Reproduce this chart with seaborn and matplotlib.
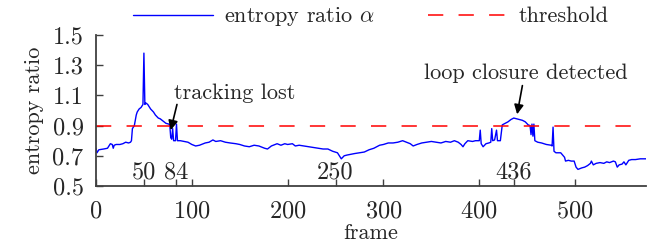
import numpy as np
import pandas as pd
import seaborn as sns
import matplotlib.pyplot as plt

# values
frames = [0, 1, 3, 8, 12, 15, 17, 18, 19, 21, 25, 28, 31, 34, 36, 37, 38, 40, 42, 43,
          45, 47, 49, 50, 51, 52, 54, 57, 60, 62, 65, 67, 70, 73, 76, 77, 78, 79, 80, 81,
          83, 84, 85, 88, 92, 96, 100, 104, 108, 114, 118, 122, 125, 130, 135, 140, 146, 150, 155, 160,
          165, 170, 176, 179, 183, 189, 193, 197, 200, 205, 208, 212, 217, 222, 227, 232, 237, 242, 247, 252,
          256, 259, 262, 266, 270, 275, 280, 285, 290, 293, 296, 300, 305, 310, 315, 320, 324, 328, 331, 335,
          340, 345, 350, 355, 360, 365, 370, 374, 378, 381, 383, 385, 388, 393, 396, 400, 401, 402, 404, 407,
          410, 412, 413, 414, 416, 418, 419, 422, 424, 427, 430, 433, 436, 439, 442, 445, 448, 451, 453, 454,
          455, 456, 457, 458, 461, 465, 470, 475, 476, 477, 478, 480, 485, 489, 490, 493, 496, 499, 501, 503,
          507, 510, 513, 516, 517, 519, 522, 526, 530, 533, 536, 540, 542, 544, 546, 549, 551, 553, 556, 559,
          563, 568, 574]
ratio = [0.75, 0.72, 0.74, 0.745, 0.75, 0.78, 0.775, 0.75, 0.77, 0.775, 0.775, 0.78, 0.79, 0.785, 0.79, 0.80, 0.88, 0.90, 0.97, 0.99,
         1.01, 1.02, 1.04, 1.38, 1.04, 1.05, 1.04, 1.01, 0.99, 0.97, 0.95, 0.945, 0.93, 0.915, 0.91, 0.905, 0.82, 0.81, 0.88, 0.80,
         0.80, 0.91, 0.80, 0.80, 0.795, 0.79, 0.775, 0.765, 0.77, 0.785, 0.79, 0.805, 0.795, 0.80, 0.79, 0.785, 0.78, 0.775, 0.765, 0.76,
         0.77, 0.765, 0.75, 0.745, 0.765, 0.78, 0.77, 0.78, 0.775, 0.78, 0.765, 0.77, 0.765, 0.76, 0.755, 0.75, 0.745, 0.745, 0.73, 0.72,
         0.68, 0.70, 0.705, 0.71, 0.715, 0.72, 0.725, 0.74, 0.75, 0.76, 0.77, 0.775, 0.785, 0.785, 0.79, 0.80, 0.79, 0.78, 0.765, 0.775,
         0.785, 0.79, 0.795, 0.79, 0.785, 0.795, 0.79, 0.80, 0.79, 0.775, 0.76, 0.78, 0.80, 0.795, 0.80, 0.80, 0.87, 0.78, 0.76, 0.78,
         0.785, 0.79, 0.88, 0.80, 0.805, 0.87, 0.80, 0.80, 0.905, 0.915, 0.925, 0.94, 0.95, 0.945, 0.94, 0.935, 0.925, 0.905, 0.90, 0.84,
         0.91, 0.83, 0.91, 0.80, 0.79, 0.785, 0.775, 0.77, 0.765, 0.89, 0.73, 0.72, 0.72, 0.69, 0.665, 0.67, 0.665, 0.665, 0.625, 0.61,
         0.62, 0.625, 0.635, 0.65, 0.665, 0.64, 0.65, 0.655, 0.65, 0.66, 0.655, 0.665, 0.66, 0.625, 0.64, 0.645, 0.66, 0.64, 0.67, 0.675,
         0.675, 0.68, 0.68]
threshold = 0.9
marked_frames = [50, 84, 250, 436]
major_ticks = [0, 100, 200, 300, 400, 500]
y_ticks = [0.5, 0.7, 0.9, 1.1, 1.3, 1.5]

sns.set_style("ticks")
plt.rcParams['font.family'] = ['cmr10', 'DejaVu Serif']
plt.rcParams['mathtext.fontset'] = 'cm'
plt.rcParams['axes.formatter.use_mathtext'] = True
plt.rcParams['font.size'] = 16

df = pd.DataFrame({'frame': frames, 'ratio': ratio})

fig = plt.figure(figsize=(6.6, 2.46), dpi=100)
ax = fig.add_axes([96 / 660, 60 / 246, 550 / 660, 151 / 246])

sns.lineplot(data=df, x='frame', y='ratio', ax=ax, color='#0000ff', lw=1.0,
             label=r'entropy ratio $\alpha$')
ax.axhline(threshold, color='#ff0000', lw=1.1, dashes=(10, 10), label='threshold')

ax.set_xlim(0, 574)
ax.set_ylim(0.5, 1.5)
ax.set_xticks(major_ticks)
ax.set_xticks(marked_frames, minor=True)
ax.set_xticklabels([str(v) for v in marked_frames], minor=True)
ax.set_yticks(y_ticks)
ax.set_yticklabels([f'{v:.1f}' for v in y_ticks])
ax.tick_params(axis='both', which='both', direction='in', length=5, width=1,
               color='#404040', labelsize=17.5)
ax.tick_params(axis='x', which='major', pad=10)
ax.tick_params(axis='x', which='minor', pad=-18)
ax.tick_params(axis='y', pad=9)
ax.set_xlabel('frame', labelpad=1)
ax.set_ylabel('entropy ratio', labelpad=6)

sns.despine(ax=ax)
for s in ['left', 'bottom']:
    ax.spines[s].set_color('#404040')
    ax.spines[s].set_linewidth(1.3)

arrow = dict(arrowstyle='-|>', color='black', lw=1.2, mutation_scale=14, shrinkA=0, shrinkB=0)
ax.annotate('', xy=(78, 0.87), xytext=(84.5, 1.04), arrowprops=arrow)
ax.text(145, 1.116, 'tracking lost', ha='center', va='center')
ax.annotate('', xy=(439.5, 0.975), xytext=(445, 1.165), arrowprops=arrow)
ax.text(449, 1.25, 'loop closure detected', ha='center', va='center')

ax.legend(loc='lower center', bbox_to_anchor=(0.5, 0.97), ncol=2, frameon=False,
          handlelength=3.6, handletextpad=0.5, columnspacing=2.4, borderaxespad=0.1)

fig.savefig('out.png', dpi=100)
